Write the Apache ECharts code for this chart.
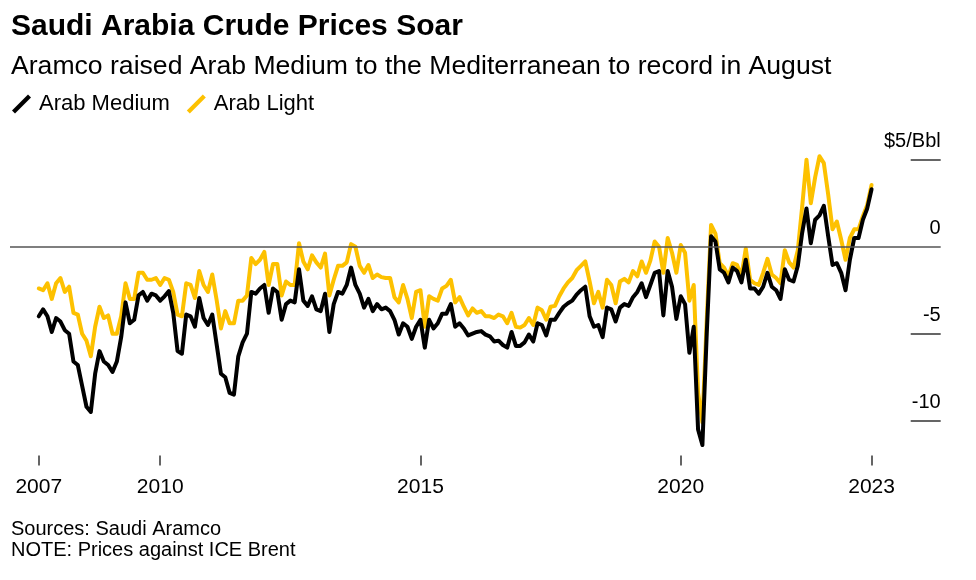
<!DOCTYPE html>
<html><head><meta charset="utf-8">
<script src="https://cdn.jsdelivr.net/npm/echarts@6/dist/echarts.min.js"></script>
<style>html,body{margin:0;padding:0;background:#fff}#c{width:976px;height:580px}</style>
</head><body><div id="c"></div>
<script>
// Monthly series, Sep 2007 .. Sep 2023 ($/bbl vs ICE Brent)
const startYear = 2007, startMonth = 9;
const arabMedium = [
  -4.0, -3.6, -4.0, -4.9,
  -4.1, -4.3, -4.8, -5.0, -6.6, -6.8, -8.0, -9.2, -9.5, -7.3, -6.0, -6.6,
  -6.8, -7.2, -6.6, -5.2, -3.2, -4.4, -4.2, -2.8, -2.6, -3.1, -2.7, -2.8,
  -3.1, -2.85, -2.55, -3.8, -6.0, -6.15, -3.9, -4.0, -4.6, -2.95, -4.1, -4.5,
  -3.9, -5.6, -7.3, -7.5, -8.4, -8.5, -6.3, -5.5, -5.0, -2.6, -2.7, -2.4,
  -2.2, -3.8, -2.4, -2.6, -4.2, -3.3, -3.1, -3.2, -1.3, -3.1, -3.4, -2.85,
  -3.6, -3.7, -2.7, -4.9, -3.3, -2.6, -2.7, -2.2, -1.2, -2.2, -2.7, -3.5,
  -3.0, -3.7, -3.3, -3.6, -3.5, -3.7, -4.2, -5.05, -4.4, -4.6, -5.3, -4.6,
  -4.2, -5.8, -4.2, -4.7, -4.4, -3.85, -3.85, -3.3, -4.6, -4.4, -4.7, -5.1,
  -5.0, -4.9, -4.85, -5.05, -5.15, -5.45, -5.4, -5.65, -5.8, -4.9, -5.7, -5.7,
  -5.5, -5.05, -5.45, -4.4, -4.5, -5.1, -4.2, -4.2, -3.8, -3.45, -3.25, -3.1,
  -2.75, -2.5, -2.3, -4.0, -4.6, -4.5, -5.2, -3.5, -3.6, -4.3, -3.5, -3.3,
  -3.4, -2.9, -2.6, -2.1, -2.9, -2.2, -1.5, -1.4, -3.95, -1.4, -2.3, -4.15,
  -2.85, -3.3, -6.1, -4.6, -10.5, -11.4, -5.0, 0.6, 0.3, -1.3, -1.5, -2.05,
  -1.2, -1.4, -2.05, -0.75, -2.4, -2.4, -2.7, -2.3, -1.5, -2.3, -2.5, -3.0,
  -1.3, -1.9, -2.0, -1.1, 0.8, 2.2, 0.2, 1.55, 1.8, 2.35, 0.6, -1.05,
  -0.95, -1.5, -2.5, -0.75, 0.5, 0.5, 1.55, 2.2, 3.3
];
const arabLight = [
  -2.4, -2.5, -2.1, -3.0,
  -2.1, -1.8, -2.6, -2.3, -3.8, -3.9, -5.0, -5.4, -6.3, -4.6, -3.45, -4.1,
  -3.95, -5.0, -5.0, -4.0, -2.1, -3.0, -3.0, -1.5, -1.5, -1.9, -1.9, -1.8,
  -2.2, -1.8, -1.9, -2.6, -3.9, -4.0, -2.1, -2.2, -2.95, -1.4, -2.2, -2.6,
  -1.6, -3.05, -4.7, -3.7, -4.4, -4.4, -3.1, -3.1, -2.8, -0.65, -1.0, -0.75,
  -0.3, -2.2, -1.0, -1.0, -2.8, -2.0, -2.2, -2.2, 0.2, -0.85, -1.3, -0.5,
  -0.9, -1.2, -0.4, -2.8, -1.9, -1.1, -1.1, -0.9, 0.15, 0.0, -1.1, -1.5,
  -1.05, -1.8, -1.6, -1.75, -1.8, -1.8, -2.9, -3.2, -2.2, -3.0, -4.1, -2.6,
  -2.5, -4.6, -2.85, -3.0, -3.1, -2.4, -2.25, -1.9, -3.2, -2.9, -3.45, -3.95,
  -3.55, -3.8, -3.7, -4.0, -4.0, -4.1, -3.9, -4.0, -4.4, -3.8, -4.6, -4.65,
  -4.5, -4.1, -4.5, -3.5, -3.65, -4.2, -3.45, -3.4, -2.85, -2.4, -2.05, -1.8,
  -1.35, -1.1, -0.85, -2.0, -3.25, -2.6, -3.5, -1.9, -2.2, -3.25, -2.0, -1.85,
  -2.05, -1.4, -1.7, -0.85, -1.5, -0.8, 0.3, 0.0, -1.5, 0.5, -0.35, -1.5,
  0.1, -0.35, -3.1, -2.2, -8.4, -10.1, -4.2, 1.25, 0.75, -0.95, -1.2, -1.7,
  -0.95, -1.05, -1.7, -0.1, -1.9, -2.1, -2.2, -1.5, -0.7, -1.6, -1.8, -2.1,
  -0.2, -0.9, -1.2, -0.2, 2.3, 5.0, 2.5, 4.0, 5.2, 4.8, 3.0, 1.0,
  1.45, 0.4, -0.75, 0.5, 1.0, 1.0, 1.75, 2.4, 3.55
];
const xTickValues = [2007 + 8 / 12, 2010, 2015, 2020, 2023 + 8 / 12];
const xTickLabels = ['2007', '2010', '2015', '2020', '2023'];
const yTickValues = [-10, -5, 0, 5];
const yTickLabels = ['-10', '-5', '0', '$5/Bbl'];
const seriesNames = ['Arab Medium', 'Arab Light'];

const FONT = 'Liberation Sans, Arial, Helvetica, sans-serif';
function toPairs(vals) {
  return vals.map((v, i) => [startYear + (startMonth - 1 + i) / 12, v]);
}
function lookup(vals, labels, v) {
  for (let i = 0; i < vals.length; i++) if (Math.abs(vals[i] - v) < 1e-6) return labels[i];
  return '';
}
const slash = 'path://M0,16 L16,0 L19,3 L3,19 Z';

const chart = echarts.init(document.getElementById('c'), null, {renderer: 'canvas'});
chart.setOption({
  animation: false,
  backgroundColor: '#fff',
  textStyle: {fontFamily: FONT},
  title: [
    {text: 'Saudi Arabia Crude Prices Soar', left: 11, top: 12, padding: 0,
     textStyle: {fontFamily: FONT, fontSize: 30, fontWeight: 'bold', color: '#000'}},
    {text: 'Aramco raised Arab Medium to the Mediterranean to record in August', left: 11, top: 53, padding: 0,
     textStyle: {fontFamily: FONT, fontSize: 26.6, fontWeight: 'normal', color: '#000'}},
    {text: 'Sources: Saudi Aramco', left: 11, top: 519, padding: 0,
     textStyle: {fontFamily: FONT, fontSize: 20, fontWeight: 'normal', color: '#000'}},
    {text: 'NOTE: Prices against ICE Brent', left: 11, top: 540, padding: 0,
     textStyle: {fontFamily: FONT, fontSize: 20, fontWeight: 'normal', color: '#000'}}
  ],
  legend: {
    data: seriesNames, left: 12, top: 93, padding: 0, itemGap: 17,
    itemWidth: 19, itemHeight: 19, icon: slash,
    textStyle: {fontFamily: FONT, fontSize: 22, color: '#000', padding: [0, 0, 0, 3]}
  },
  grid: {left: 10, right: 35.3, top: 142.3, bottom: 124.5, containLabel: false},
  xAxis: {
    type: 'value', min: 2007.114, max: 2024.995,
    axisLine: {show: false, onZero: false}, splitLine: {show: false},
    axisTick: {show: true, customValues: xTickValues, length: 10, lineStyle: {color: '#333', width: 1.5}},
    axisLabel: {customValues: xTickValues, formatter: v => lookup(xTickValues, xTickLabels, v),
      margin: 21, fontSize: 21, color: '#000', fontFamily: FONT}
  },
  yAxis: {
    type: 'value', position: 'right', min: -12, max: 6,
    axisLine: {show: false}, splitLine: {show: false},
    axisTick: {show: true, inside: true, length: 30, customValues: [-10, -5, 5], lineStyle: {color: '#333', width: 1.5}},
    axisLabel: {inside: true, customValues: yTickValues, formatter: v => lookup(yTickValues, yTickLabels, v),
      margin: 0, align: 'right', verticalAlign: 'bottom', padding: [0, 0, 8, 0], lineHeight: 20,
      fontSize: 20, color: '#000', fontFamily: FONT}
  },
  series: [
    {name: seriesNames[1], type: 'line', data: toPairs(arabLight), showSymbol: false, symbol: 'none',
     color: '#fdc100', lineStyle: {width: 4, color: '#fdc100', cap: 'round', join: 'round'},
     markLine: {silent: true, symbol: 'none', label: {show: false},
       lineStyle: {color: '#555', width: 1.5, type: 'solid'}, data: [{yAxis: 0}]}},
    {name: seriesNames[0], type: 'line', data: toPairs(arabMedium), showSymbol: false, symbol: 'none',
     color: '#000', lineStyle: {width: 4, color: '#000', cap: 'round', join: 'round'}}
  ]
});
</script></body></html>
